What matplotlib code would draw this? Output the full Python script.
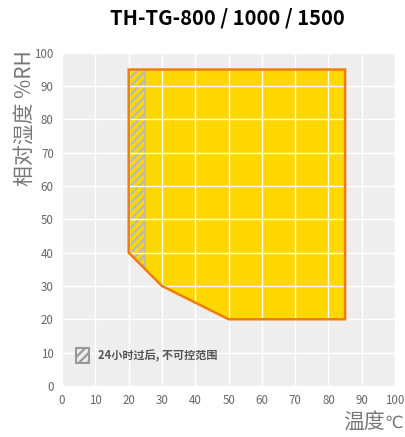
import matplotlib
matplotlib.use("Agg")
import matplotlib.pyplot as plt
from matplotlib.patches import Polygon, Rectangle

plt.rcParams['font.family'] = ['Noto Sans CJK SC', 'DejaVu Sans']
plt.rcParams['hatch.color'] = '#C4C4C4'
plt.rcParams['hatch.linewidth'] = 1.6

# Range boundary (temperature, humidity)
RANGE_TEMP = [20, 20, 85, 85, 50, 30]
RANGE_RH = [40, 95, 95, 20, 20, 30]
# Uncontrollable region after 24h
HATCH_TEMP = [20, 20, 25, 25]
HATCH_RH = [40, 95, 95, 35]

X_TICKS = list(range(0, 101, 10))
Y_TICKS = list(range(0, 101, 10))

TITLE = "TH-TG-800 / 1000 / 1500"
X_LABEL = "温度"
X_UNIT = "℃"
Y_LABEL = "相对湿度 %RH"
LEGEND_TEXT = "24小时过后, 不可控范围"

fig = plt.figure(figsize=(4.06, 4.37), dpi=100)
ax = fig.add_axes([0.153, 0.117, 0.820, 0.762])
ax.set_facecolor('#EEEEEE')
for s in ax.spines.values():
    s.set_visible(False)

ax.add_patch(Polygon(list(zip(RANGE_TEMP, RANGE_RH)), closed=True,
                     facecolor='#FFD700', edgecolor='none', zorder=1))
ax.add_patch(Polygon(list(zip(HATCH_TEMP, HATCH_RH)), closed=True,
                     facecolor='none', edgecolor='#B8B8B8', hatch='////',
                     linewidth=1.2, zorder=2))
ax.grid(True, color='white', linewidth=1.0, zorder=3)
ax.set_axisbelow(False)
ax.add_patch(Polygon(list(zip(RANGE_TEMP, RANGE_RH)), closed=True,
                     facecolor='none', edgecolor='#F07D0A', linewidth=1.8,
                     zorder=4))

ax.set_xlim(0, 100)
ax.set_ylim(0, 100)
ax.set_xticks(X_TICKS)
ax.set_yticks(Y_TICKS)
ax.tick_params(length=0, labelsize=8.3, labelcolor='#666666', pad=6)

fig.text(0.561, 0.958, TITLE, fontsize=14.5, fontweight='bold',
         ha='center', va='center')
fig.text(0.06, 0.73, Y_LABEL, fontsize=15, color='#777777',
         rotation=90, ha='center', va='center')
fig.text(0.948, 0.01, X_LABEL, fontsize=15, color='#777777',
         ha='right', va='bottom')
fig.text(0.948, 0.012, X_UNIT, fontsize=12, color='#777777',
         ha='left', va='bottom', family=['DejaVu Sans'])

# legend entry
ax.add_patch(Rectangle((4.3, 6.8), 3.8, 4.5, facecolor='#EEEEEE',
                       edgecolor='#999999', hatch='////', linewidth=1.5,
                       zorder=5))
ax.text(10.8, 9.0, LEGEND_TEXT, fontsize=8, fontweight='bold',
        color='#555555', va='center', ha='left', zorder=5)

fig.savefig('out.png', dpi=100)
